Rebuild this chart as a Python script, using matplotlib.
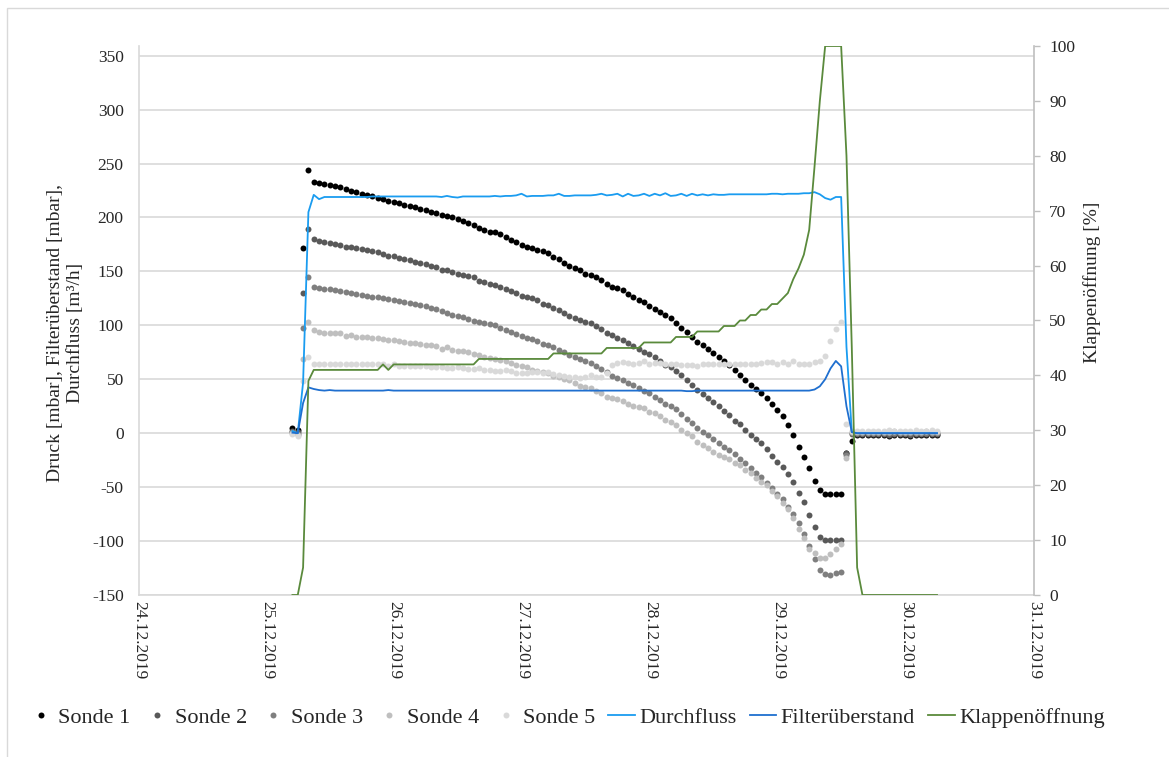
import matplotlib
matplotlib.use("Agg")
import matplotlib.pyplot as plt
import matplotlib.dates as mdates
from matplotlib.lines import Line2D
from matplotlib.patches import Rectangle
import pandas as pd

plt.rcParams['font.family'] = ['Liberation Serif', 'DejaVu Serif']
plt.rcParams['axes.unicode_minus'] = False

# ---------------- data (hourly samples) ----------------
times = pd.date_range('2019-12-25 04:48', periods=122, freq='h')

sonde1 = [5, 3, 172, 244, 233, 232, 231, 230, 229, 228, 226, 225, 223.5, 222, 221, 220, 218.5, 217.5, 215.5, 214,
          213, 212, 211, 209.5, 208, 207, 205.5, 204.5, 202, 201.5,
          200, 199, 197, 195, 193, 190, 188.5, 187, 186.5, 184.5, 181.5, 179.5, 177, 174.5, 173, 172, 170, 168.5, 167, 163.5,
          161.5, 157.5, 155, 153.5, 151.5, 148, 147, 144.5, 142.5, 138,
          136, 134.5, 132.5, 129.5, 126.5, 123.5, 121.5, 118, 115.5, 112, 109.5, 106.5, 102, 98, 93.5, 89, 85, 82, 78, 74.5,
          71, 67, 63.5, 58.5, 54, 49, 44.5, 41, 37, 32.5,
          27, 21.5, 15.5, 7.5, -2, -12.5, -22.5, -32.5, -44, -53, -56, -56, -56, -56, -18, -7,
          -2, -2, -1.5, -2, -2, -2, -2.5, -2, -2, -2, -2.5, -2, -1.5, -2, -2, -2]

sonde2 = [2, 1, 130, 189.5, 180, 178.5, 177.5, 176, 175.5, 174.5, 173, 173, 172, 170.5, 170, 168.5, 168, 166.5, 164.5, 164,
          162.5, 161.5, 160.5, 159, 158, 156.5, 155, 154.5, 151.5, 151,
          149.5, 148, 147, 146, 145, 141.5, 140.5, 138.5, 137.5, 136, 133.5, 131.5, 130, 127.5, 126.5, 125.5, 123.5, 120, 118.5, 116,
          114.5, 111, 109, 106.5, 105, 103.5, 102, 99.5, 96.5, 92.5,
          91, 88, 86.5, 84, 80.5, 78, 75, 73, 70.5, 66.5, 63.5, 61, 58, 54, 49.5, 45, 40, 36, 32.5, 29,
          25.5, 20.5, 16.5, 11.5, 8.5, 3, -2, -5, -9.5, -14.5,
          -21, -26.5, -31, -38, -45, -55, -64, -76, -87, -96, -99, -99, -99, -99, -18, -1,
          -1, -1, -0.5, -1, -1, -1, -1.5, -1, -1, -1, -1.5, -1, -0.5, -1, -1, -1]

sonde3 = [1, -1, 98, 145, 136, 135, 134, 133.5, 132.5, 131.5, 130.5, 130, 129, 128, 127.5, 126.5, 126, 125.5, 124.5, 123.5,
          122.5, 121.5, 120.5, 119.5, 118.5, 117.5, 116.5, 115.5, 113.5, 111.5,
          110, 109, 107.5, 106, 104, 103, 102, 101, 100, 98, 96, 94, 92, 90.5, 88.5, 87.5, 85.5, 83, 82, 79.5,
          77.5, 75, 72.5, 71, 68.5, 67, 65, 62, 59.5, 57,
          53, 51.5, 49.5, 47, 45, 42, 39.5, 37, 34, 30.5, 27.5, 25, 22, 17.5, 13.5, 9.5, 5, 1, -2, -5,
          -9, -12.5, -16, -19.5, -23.5, -28, -32.5, -37, -41, -46,
          -50.5, -56, -61, -68, -75, -83, -93, -105, -117, -127, -130.5, -131, -130, -129, -20, 0,
          0, 0.5, 0, 0, 0.5, 0, 0, 0.5, 0, 0, 0.5, 0, 0, 0.5, 0, 0]

sonde4 = [0, -2, 68.5, 103.5, 95.5, 93.5, 93, 93, 93, 92.5, 90.5, 91, 89.5, 89, 89, 88.5, 88, 87.5, 86, 86,
          85.5, 84.5, 83.5, 83.5, 83, 82, 81.5, 80.5, 78, 79.5,
          77, 76.5, 76, 75, 73.5, 72.5, 70.5, 69.5, 68.5, 68, 67, 65, 63.5, 62, 61, 58.5, 58, 57, 55.5, 53.5,
          52.5, 50, 49, 46.5, 44, 42.5, 41.5, 39.5, 37.5, 34,
          32.5, 31.5, 29.5, 27.5, 25.5, 24.5, 23, 20, 18.5, 15.5, 12.5, 10.5, 7.5, 3, 0, -2.5, -8, -11, -13.5, -17,
          -20, -22, -24, -28, -29.5, -34.5, -37, -41.5, -45, -48,
          -54, -58.5, -64.5, -70, -79, -88.5, -97.5, -107, -111.5, -116, -116, -112, -107, -103, -23, 1.5,
          1, 1.5, 1, 1, 1.5, 1, 1, 2, 1, 1, 1.5, 1, 1, 2, 1, 1]

sonde5 = [-1, -3, 48, 71, 64, 64, 64.5, 64, 64, 64, 64, 64, 64, 64, 64, 64, 64, 64, 62.5, 64,
          62.5, 62, 62, 62, 62, 62, 61.5, 61, 61, 60.5,
          60, 61.5, 60.5, 59.5, 59.5, 60.5, 58.5, 58.5, 58, 58, 58.5, 58, 56, 56, 55.5, 57, 57, 55.5, 56.5, 55,
          54, 53.5, 52.5, 52.5, 51.5, 52.5, 54, 52.5, 52.5, 56,
          63.5, 65, 66, 65, 64.5, 65, 66.5, 64, 65, 65, 64.5, 64, 64, 63.5, 63.5, 63.5, 62, 64, 64, 64,
          64, 64, 64, 64.5, 64.5, 64.5, 64.5, 64.5, 65, 66,
          66, 64.5, 66, 64.5, 66.5, 64.5, 64.5, 64.5, 66, 67, 72, 85.5, 96.5, 103.5, 8.5, 2,
          2, 2.5, 2, 2, 2.5, 2, 3, 2, 2, 2.5, 2, 3, 2, 2, 3, 2]

durchfluss = [2, 0, 47, 205, 221, 217, 219, 219, 219, 219, 219, 219, 219, 219, 219, 219.5, 219.5, 219.5, 219.5, 219.5,
              219.5, 219.5, 219.5, 219.5, 219.5, 219.5, 219.5, 219.5, 219, 220,
              219, 218.5, 219.5, 219.5, 219.5, 219.5, 219.5, 219.5, 220, 219.5, 220, 220, 220.5, 222, 219.5, 220, 220, 220, 220.5, 220.5,
              222, 220, 220, 220.5, 220.5, 220.5, 220.5, 221, 222, 220.5,
              221, 222, 219.5, 222, 220, 220.5, 222, 220, 222, 220.5, 222.5, 220, 220.5, 222, 220, 222, 220.5, 221.5, 220.5, 221.5,
              221, 221, 221.5, 221.5, 221.5, 221.5, 221.5, 221.5, 221.5, 221.5,
              222, 222, 221.5, 222, 222, 222, 222.5, 222.5, 223.5, 221.5, 218, 216.5, 219, 219, 80, 1,
              0, 0, 0, 0, 0, 0, 0, 0, 0, 0, 0, 0, 0, 0, 0, 0]

filterueberstand = [0.5, 0, 28, 42.5, 41, 40, 39.5, 40, 39.5, 39.5, 39.5, 39.5, 39.5, 39.5, 39.5, 39.5, 39.5, 39.5, 40, 39.5,
                    39.5, 39.5, 39.5, 39.5, 39.5, 39.5, 39.5, 39.5, 39.5, 39.5,
                    39.5, 39.5, 39.5, 39.5, 39.5, 39.5, 39.5, 39.5, 39.5, 39.5, 39.5, 39.5, 39.5, 39.5, 39.5, 39.5, 39.5, 39.5, 39.5, 39.5,
                    39.5, 39.5, 39.5, 39.5, 39.5, 39.5, 39.5, 39.5, 39.5, 39.5,
                    39.5, 39.5, 39.5, 39.5, 39.5, 39.5, 39.5, 39.5, 39.5, 39.5, 39.5, 39.5, 39.5, 39.5, 39, 39, 39.5, 39.5, 39.5, 39.5,
                    39.5, 39.5, 39.5, 39.5, 39.5, 39.5, 39.5, 39.5, 39.5, 39.5,
                    39.5, 39.5, 39.5, 39.5, 39.5, 39.5, 39.5, 39.5, 40.5, 43.5, 50, 60, 67, 62, 25, 1,
                    0, 0, 0, 0, 0, 0, 0, 0, 0, 0, 0, 0, 0, 0, 0, 0]

klappe = [0, 0, 5, 39, 41, 41, 41, 41, 41, 41, 41, 41, 41, 41, 41, 41, 41, 42, 41, 42,
          42, 42, 42, 42, 42, 42, 42, 42, 42, 42,
          42, 42, 42, 42, 42, 43, 43, 43, 43, 43, 43, 43, 43, 43, 43, 43, 43, 43, 43, 44,
          44, 44, 44, 44, 44, 44, 44, 44, 44, 45,
          45, 45, 45, 45, 45, 45, 46, 46, 46, 46, 46, 46, 47, 47, 47, 47, 48, 48, 48, 48,
          48, 49, 49, 49, 50, 50, 51, 51, 52, 52,
          53, 53, 54, 55, 57.5, 59.5, 62, 66.5, 78, 90, 100, 100, 100, 100, 80, 45,
          5, 0, 0, 0, 0, 0, 0, 0, 0, 0, 0, 0, 0, 0, 0, 0]

sonde_names = ['Sonde 1', 'Sonde 2', 'Sonde 3', 'Sonde 4', 'Sonde 5']
sonde_colors = ['#000000', '#595959', '#7f7f7f', '#bfbfbf', '#d9d9d9']
c_flow = '#1a9cf0'
c_filter = '#1f6fcf'
c_klappe = '#5a8a3c'

# ---------------- figure ----------------
W, H = 1169, 757
fig = plt.figure(figsize=(W / 100, H / 100), dpi=100)
fig.patch.set_facecolor('white')
fig.add_artist(Rectangle((7 / W, -0.01), 1.05, 1 - 8 / H + 0.01, transform=fig.transFigure,
                         fill=False, ec='#d9d9d9', lw=1.0))

L, R, T, B = 139, 1034, 46, 595
ax = fig.add_axes([L / W, 1 - B / H, (R - L) / W, (B - T) / H])
ax2 = ax.twinx()

MS = 4.3
for vals, col in zip([sonde1, sonde2, sonde3, sonde4, sonde5], sonde_colors):
    ax.plot(times, vals, linestyle='none', marker='o', ms=MS, mfc=col, mec='none', zorder=3)
ax.plot(times, durchfluss, color=c_flow, lw=1.3, zorder=4)
ax.plot(times, filterueberstand, color=c_filter, lw=1.3, zorder=4)
ax2.plot(times, klappe, color=c_klappe, lw=1.3)

ax.set_ylim(-150, 359)
ax.set_yticks(list(range(-150, 351, 50)))
ax2.set_ylim(0, 100)
ax2.set_yticks(list(range(0, 101, 10)))
ax.set_xlim(pd.Timestamp('2019-12-24'), pd.Timestamp('2019-12-31'))
ax.xaxis.set_major_locator(mdates.DayLocator())
ax.xaxis.set_major_formatter(mdates.DateFormatter('%d.%m.%Y'))

ax.grid(axis='y', color='#d9d9d9', lw=1.2)
ax.set_axisbelow(True)

for s in ['top', 'right']:
    ax.spines[s].set_visible(False)
for s in ['top', 'left', 'bottom']:
    ax2.spines[s].set_visible(False)
ax.spines['left'].set_color('#d9d9d9')
ax.spines['bottom'].set_color('#d9d9d9')
ax.spines['left'].set_linewidth(1.2)
ax.spines['bottom'].set_linewidth(1.2)
ax2.spines['right'].set_color('#bfbfbf')
ax2.spines['right'].set_linewidth(1.2)

ax.tick_params(axis='y', length=0, pad=11, labelsize=12.5, labelcolor='#262626')
ax.tick_params(axis='x', length=0, pad=4, labelsize=12.5, labelcolor='#262626')
ax2.tick_params(axis='y', length=4, width=1, color='#bfbfbf', pad=7, labelsize=12.5, labelcolor='#262626')
for lbl in ax.get_xticklabels():
    lbl.set_rotation(270)
    lbl.set_ha('center')
    lbl.set_va('top')

fig.text(65.5 / W, 1 - 333 / H, 'Druck [mbar], Filterüberstand [mbar],\nDurchfluss [m³/h]',
         rotation=90, ha='center', va='center', multialignment='center', fontsize=14,
         linespacing=1.25, color='#262626')
fig.text(1092 / W, 1 - 282 / H, 'Klappenöffnung [%]', rotation=90, ha='center', va='center',
         fontsize=14, color='#262626')

handles = [Line2D([], [], linestyle='none', marker='o', ms=MS, mfc=c, mec='none') for c in sonde_colors]
handles += [Line2D([], [], color=c_flow, lw=1.3), Line2D([], [], color=c_filter, lw=1.3),
            Line2D([], [], color=c_klappe, lw=1.3)]
labels = sonde_names + ['Durchfluss', 'Filterüberstand', 'Klappenöffnung']
leg = fig.legend(handles, labels, loc='center', bbox_to_anchor=(566 / W, 1 - 718 / H), ncol=8,
                 frameon=False, fontsize=16, handlelength=1.2, handletextpad=0.2, columnspacing=0.58)
for t in leg.get_texts():
    t.set_color('#262626')

fig.savefig('out.png', dpi=100)
